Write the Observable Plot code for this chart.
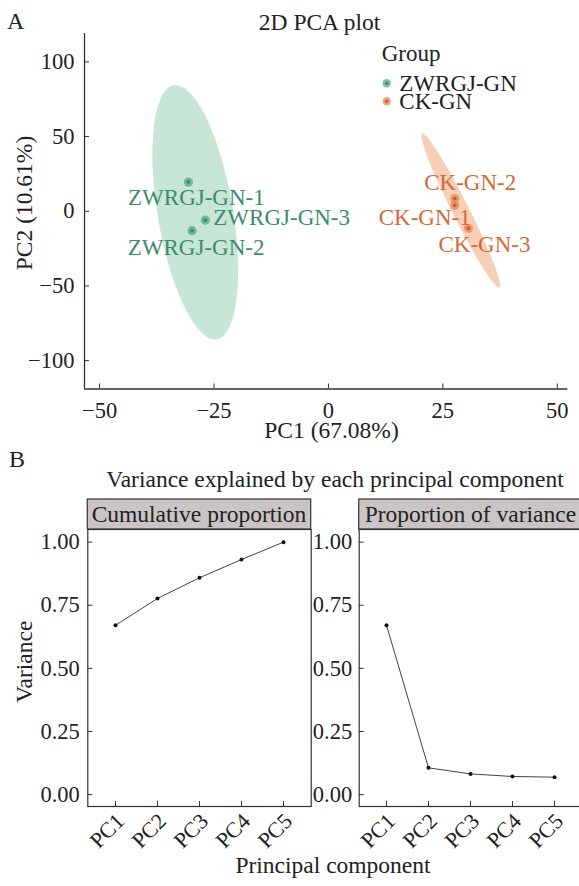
<!DOCTYPE html>
<html><head><meta charset="utf-8">
<script src="https://cdn.jsdelivr.net/npm/d3@7"></script>
<script src="https://cdn.jsdelivr.net/npm/@observablehq/plot@0.6"></script>
<style>
html,body{margin:0;padding:0;background:#fff;overflow:hidden;}
#root{position:relative;width:579px;height:886px;overflow:hidden;font-family:"Liberation Serif","Times New Roman",serif;color:#222;}
#root > svg, #root > figure{position:absolute;margin:0;}
</style></head><body><div id="root"></div>
<script>
// ---------------- data ----------------
const sampleNames  = ["ZWRGJ-GN-1","ZWRGJ-GN-2","ZWRGJ-GN-3","CK-GN-1","CK-GN-2","CK-GN-3"];
const sampleGroups = ["ZWRGJ-GN","ZWRGJ-GN","ZWRGJ-GN","CK-GN","CK-GN","CK-GN"];
const pc1Values = [-30.6, -29.8, -26.9, 27.6, 27.6, 30.6];
const pc2Values = [19.5, -13.0, -6.0, 4.0, 8.5, -11.4];
const groupNames = ["ZWRGJ-GN","CK-GN"];
// confidence ellipses: centre, major and minor half-axis vectors, data units
const ellipseCenters = [[-29.1, -0.7], [28.9, 0.5]];
const ellipseMajors  = [[-4.69, 85.0], [-8.44, 51.5]];
const ellipseMinors  = [[8.11, 4.17], [1.63, 2.48]];
// ggrepel-like label offsets (px) per sample
const labelDx = [8, 4, 8, -30, 15.5, 16];
const labelDy = [16, 17, -3, 12.6, -15.7, 16.3];
const labelAnchor = ["middle","middle","start","middle","middle","middle"];

const components = ["PC1","PC2","PC3","PC4","PC5"];
const cumulativeProportion = [0.6708, 0.7769, 0.8589, 0.9309, 1.0];
const proportionOfVariance = [0.6708, 0.1061, 0.0820, 0.0720, 0.0691];

const pcaXTicks = [-50, -25, 0, 25, 50];
const pcaYTicks = [-100, -50, 0, 50, 100];
const varianceTicks = [0, 0.25, 0.5, 0.75, 1];
const pcaXDomain = [-53.3, 52.3];
const pcaYDomain = [-119, 119];
const varianceDomain = [-0.047, 1.05];

// ---------------- styles ----------------
const FONT = "Liberation Serif, Times New Roman, serif";
const ink = "#222";
const axisInk = "#333";
const TICK = 5;
const groupDot   = {"ZWRGJ-GN": "#55a987", "CK-GN": "#e8885c"};
const groupCore  = {"ZWRGJ-GN": "#3f8e6e", "CK-GN": "#cf5f2f"};
const groupText  = {"ZWRGJ-GN": "#3d8b6b", "CK-GN": "#d6683a"};
const groupFill  = {"ZWRGJ-GN": "#c7e6d5", "CK-GN": "#f7cfb6"};

const minusFmt = d => d < 0 ? "\u2212" + Math.abs(d) : String(d);
const root = document.getElementById("root");

// ---------------- panel A ----------------
const samples = sampleNames.map((n, i) => ({name: n, group: sampleGroups[i], pc1: pc1Values[i], pc2: pc2Values[i]}));
const ellipseMarks = groupNames.map((g, i) => {
  const pts = d3.range(0, 361, 2).map(deg => {
    const t = deg * Math.PI / 180;
    return {
      x: ellipseCenters[i][0] + ellipseMajors[i][0] * Math.cos(t) + ellipseMinors[i][0] * Math.sin(t),
      y: ellipseCenters[i][1] + ellipseMajors[i][1] * Math.cos(t) + ellipseMinors[i][1] * Math.sin(t)
    };
  });
  return Plot.line(pts, {x: "x", y: "y", fill: groupFill[g], stroke: "none", curve: "linear-closed"});
});
const labelMarks = samples.map((s, i) => Plot.text([s], {
  x: "pc1", y: "pc2", text: "name", dx: labelDx[i], dy: labelDy[i], textAnchor: labelAnchor[i],
  fill: groupText[s.group], fontSize: 23, fontFamily: FONT
}));

const pcaW = 579, pcaH = 445, pcaML = 84, pcaMR = 11.7, pcaMT = 33, pcaMB = 56.5;
const pcaFW = pcaW - pcaML - pcaMR, pcaFH = pcaH - pcaMT - pcaMB;
const pca = Plot.plot({
  width: pcaW, height: pcaH,
  marginLeft: pcaML, marginRight: pcaMR, marginTop: pcaMT, marginBottom: pcaMB,
  style: {fontFamily: FONT, fontSize: "22.5px", color: ink, background: "transparent", overflow: "visible"},
  x: {domain: pcaXDomain, label: null},
  y: {domain: pcaYDomain, label: null},
  marks: [
    ...ellipseMarks,
    Plot.dot(samples, {x: "pc1", y: "pc2", r: 4.6, fill: d => groupDot[d.group], fillOpacity: 0.75, stroke: "none"}),
    Plot.dot(samples, {x: "pc1", y: "pc2", r: 2, fill: d => groupCore[d.group], stroke: "none"}),
    ...labelMarks,
    Plot.ruleX([pcaXDomain[0]], {stroke: axisInk, strokeWidth: 1.3}),
    Plot.ruleY([pcaYDomain[0]], {stroke: axisInk, strokeWidth: 1.3}),
    Plot.tickX(pcaXTicks, {x: d => d, insetTop: pcaFH - TICK, stroke: axisInk}),
    Plot.tickY(pcaYTicks, {y: d => d, insetRight: pcaFW - TICK, stroke: axisInk}),
    Plot.axisX({ticks: pcaXTicks, tickFormat: minusFmt, tickSize: 0, tickPadding: 13, fill: ink, fontSize: 22.5, label: null}),
    Plot.axisY({ticks: pcaYTicks, tickFormat: minusFmt, tickSize: 0, tickPadding: 10, fill: ink, fontSize: 22.5, label: null})
  ]
});
pca.style.left = "0px"; pca.style.top = "0px";
root.appendChild(pca);

// ---------------- panel B ----------------
function variancePanel(values, opts) {
  const rows = components.map((c, i) => ({pc: c, v: values[i]}));
  const H = 387, MT = 30, MB = 80;
  const FW = opts.width - opts.marginLeft - opts.marginRight, FH = H - MT - MB;
  return Plot.plot({
    width: opts.width, height: H,
    marginLeft: opts.marginLeft, marginRight: opts.marginRight, marginTop: MT, marginBottom: MB,
    style: {fontFamily: FONT, fontSize: "22.5px", color: ink, background: "transparent", overflow: "visible"},
    x: {type: "point", domain: components, padding: 0.6, label: null},
    y: {domain: varianceDomain, label: null},
    marks: [
      Plot.frame({stroke: axisInk, strokeWidth: 1.2}),
      Plot.tickX(components, {x: d => d, insetTop: FH - TICK, stroke: axisInk}),
      Plot.tickY(varianceTicks, {y: d => d, insetRight: FW - TICK, stroke: axisInk}),
      Plot.line(rows, {x: "pc", y: "v", stroke: "#444", strokeWidth: 1}),
      Plot.dot(rows, {x: "pc", y: "v", r: 2, fill: "#111", stroke: "none"}),
      Plot.axisX({tickSize: 0, tickPadding: 11, tickRotate: -45, dx: 5, fill: ink, fontSize: 22, label: null}),
      Plot.axisY({ticks: varianceTicks, tickFormat: d3.format(".2f"), tickSize: 0, tickPadding: opts.pad, fill: ink, fontSize: 22.5, label: null})
    ]
  });
}
const cum = variancePanel(cumulativeProportion, {width: 320, marginLeft: 87.3, marginRight: 9.3, pad: 8});
cum.style.left = "0px"; cum.style.top = "499px";
root.appendChild(cum);
const prop = variancePanel(proportionOfVariance, {width: 300, marginLeft: 58.7, marginRight: 17.9, pad: 7});
prop.style.left = "300px"; prop.style.top = "499px";
root.appendChild(prop);

// ---------------- annotations (titles, strips, legend) ----------------
const ns = "http://www.w3.org/2000/svg";
const ov = document.createElementNS(ns, "svg");
ov.setAttribute("width", 579); ov.setAttribute("height", 886);
ov.style.left = "0px"; ov.style.top = "0px"; ov.style.pointerEvents = "none";
ov.setAttribute("font-family", FONT);
root.appendChild(ov);
function txt(s, x, y, {size = 23.5, anchor = "start", fill = ink, rotate = 0} = {}) {
  const t = document.createElementNS(ns, "text");
  t.textContent = s;
  t.setAttribute("text-anchor", anchor);
  t.setAttribute("font-size", size);
  t.setAttribute("fill", fill);
  t.setAttribute("transform", `translate(${x},${y}) rotate(${rotate})`);
  ov.appendChild(t);
  return t;
}
function rect(x, y, w, h, fill, stroke) {
  const r = document.createElementNS(ns, "rect");
  r.setAttribute("x", x); r.setAttribute("y", y); r.setAttribute("width", w); r.setAttribute("height", h);
  r.setAttribute("fill", fill); r.setAttribute("stroke", stroke); r.setAttribute("stroke-width", 1.2);
  ov.appendChild(r);
}
function circ(cx, cy, r, fill, op = 1) {
  const c = document.createElementNS(ns, "circle");
  c.setAttribute("cx", cx); c.setAttribute("cy", cy); c.setAttribute("r", r);
  c.setAttribute("fill", fill); c.setAttribute("fill-opacity", op);
  ov.appendChild(c);
}
txt("A", 7, 28.5, {size: 24});
txt("2D PCA plot", 319.5, 30, {size: 23.5, anchor: "middle"});
txt("PC1 (67.08%)", 331.5, 438, {anchor: "middle"});
txt("PC2 (10.61%)", 32, 203, {anchor: "middle", rotate: -90});
// legend
txt("Group", 381.7, 61, {size: 23});
groupNames.forEach((g, i) => {
  const cy = 83.3 + i * 18;
  circ(386.7, cy, 4.2, groupDot[g], 0.75);
  circ(386.7, cy, 1.8, groupCore[g]);
  txt(g, 399.3, cy + 7.5, {size: 23});
});
// panel B
txt("B", 9, 467, {size: 24});
txt("Variance explained by each principal component", 335, 487, {anchor: "middle"});
rect(87.3, 499, 223.4, 30, "#cac4c4", axisInk);
txt("Cumulative proportion", 87.3 + 111.7, 522, {anchor: "middle"});
rect(358.7, 499, 223.4, 30, "#cac4c4", axisInk);
txt("Proportion of variance", 358.7 + 111.7, 522, {anchor: "middle"});
txt("Variance", 31.5, 661.7, {anchor: "middle", rotate: -90});
txt("Principal component", 333, 873, {anchor: "middle"});
</script></body></html>
